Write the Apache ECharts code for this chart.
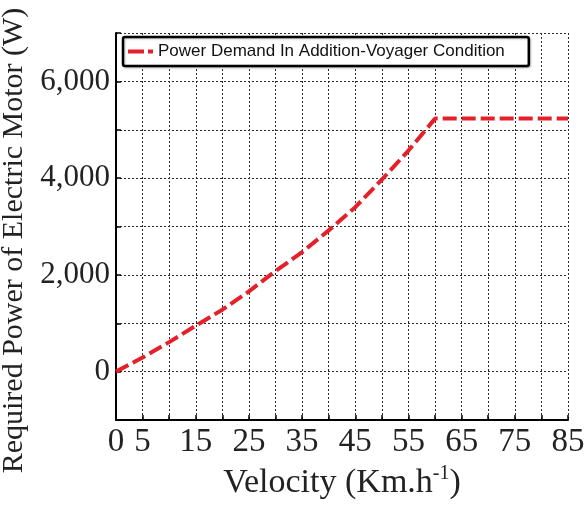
<!DOCTYPE html>
<html>
<head>
<meta charset="utf-8">
<script src="https://cdn.jsdelivr.net/npm/echarts@6/dist/echarts.min.js"></script>
<style>
  html, body { margin: 0; padding: 0; background: #fff; }
  #chart { width: 586px; height: 506px; }
</style>
</head>
<body>
<div id="chart"></div>
<script>
const velocity = [0, 5, 10, 15, 20, 25, 30, 35, 40, 45, 50, 55, 60, 65, 70, 75, 80, 85];
const power = [0, 290, 610, 950, 1280, 1660, 2080, 2470, 2920, 3400, 3970, 4570, 5230, 5230, 5230, 5230, 5230, 5230];
const seriesName = 'Power Demand In Addition-Voyager Condition';
const xTitle = 'Velocity (Km.h';
const yTitle = 'Required Power of Electric Motor (W)';

const chart = echarts.init(document.getElementById('chart'), null, { renderer: 'canvas' });
const serif = '"Liberation Serif", "Times New Roman", serif';
const gridLine = { show: true, lineStyle: { color: '#2a2a2a', type: [2, 2], width: 1 } };

chart.setOption({
  animation: false,
  backgroundColor: '#fff',
  grid: { left: 116, right: 18, top: 33, bottom: 86, containLabel: false, outerBoundsMode: 'none' },
  legend: {
    left: 123, top: 37,
    data: [{ name: seriesName, icon: 'path://M0,0h16v4h-16z M20,0h5v4h-5z' }],
    backgroundColor: '#fff',
    borderColor: '#000', borderWidth: 2.5, borderRadius: 2,
    padding: [6, 24, 6, 5],
    itemWidth: 25, itemHeight: 4, itemGap: 8,
    itemStyle: { color: '#e4202a' },
    textStyle: { fontFamily: '"Liberation Sans", Arial, sans-serif', fontSize: 17, color: '#111' },
    shadowColor: 'rgba(0,0,0,0.25)', shadowOffsetX: 1, shadowOffsetY: 1, shadowBlur: 2
  },
  xAxis: {
    type: 'value', min: 0, max: 85, interval: 5,
    name: '{a|' + xTitle + '}{s|-1}{a|)}',
    nameLocation: 'middle', nameGap: 44,
    nameTextStyle: {
      rich: {
        a: { fontFamily: serif, fontSize: 34, color: '#222' },
        s: { fontFamily: serif, fontSize: 20, color: '#222', verticalAlign: 'top', padding: [0, 0, 18, 0] }
      }
    },
    axisLine: { show: true, onZero: false, lineStyle: { color: '#000', width: 2 } },
    axisTick: { show: true, inside: true, length: 5, lineStyle: { color: '#000', width: 1.5 } },
    axisLabel: {
      fontFamily: serif, fontSize: 33, color: '#222', margin: 6,
      formatter: v => (v === 0 || v % 10 === 5) ? String(v) : ''
    },
    splitLine: gridLine
  },
  yAxis: {
    type: 'value', min: -1000, max: 7000, interval: 1000,
    name: yTitle, nameLocation: 'middle', nameGap: 80, nameRotate: 90,
    nameTextStyle: { fontFamily: serif, fontSize: 30, color: '#222', padding: [0, 28, 0, 0] },
    axisLine: { show: true, onZero: false, lineStyle: { color: '#000', width: 2 } },
    axisTick: { show: true, inside: true, length: 5, lineStyle: { color: '#000', width: 1.5 } },
    axisLabel: {
      fontFamily: serif, fontSize: 31, color: '#222', margin: 6,
      formatter: v => (v % 2000 === 0) ? v.toLocaleString('en-US') : ''
    },
    splitLine: gridLine
  },
  series: [{
    name: seriesName,
    type: 'line',
    data: velocity.map((v, i) => [v, power[i]]),
    symbol: 'none',
    lineStyle: { color: '#e4202a', width: 4, type: [14, 5], cap: 'butt' },
    itemStyle: { color: '#e4202a' }
  }]
});
</script>
</body>
</html>
